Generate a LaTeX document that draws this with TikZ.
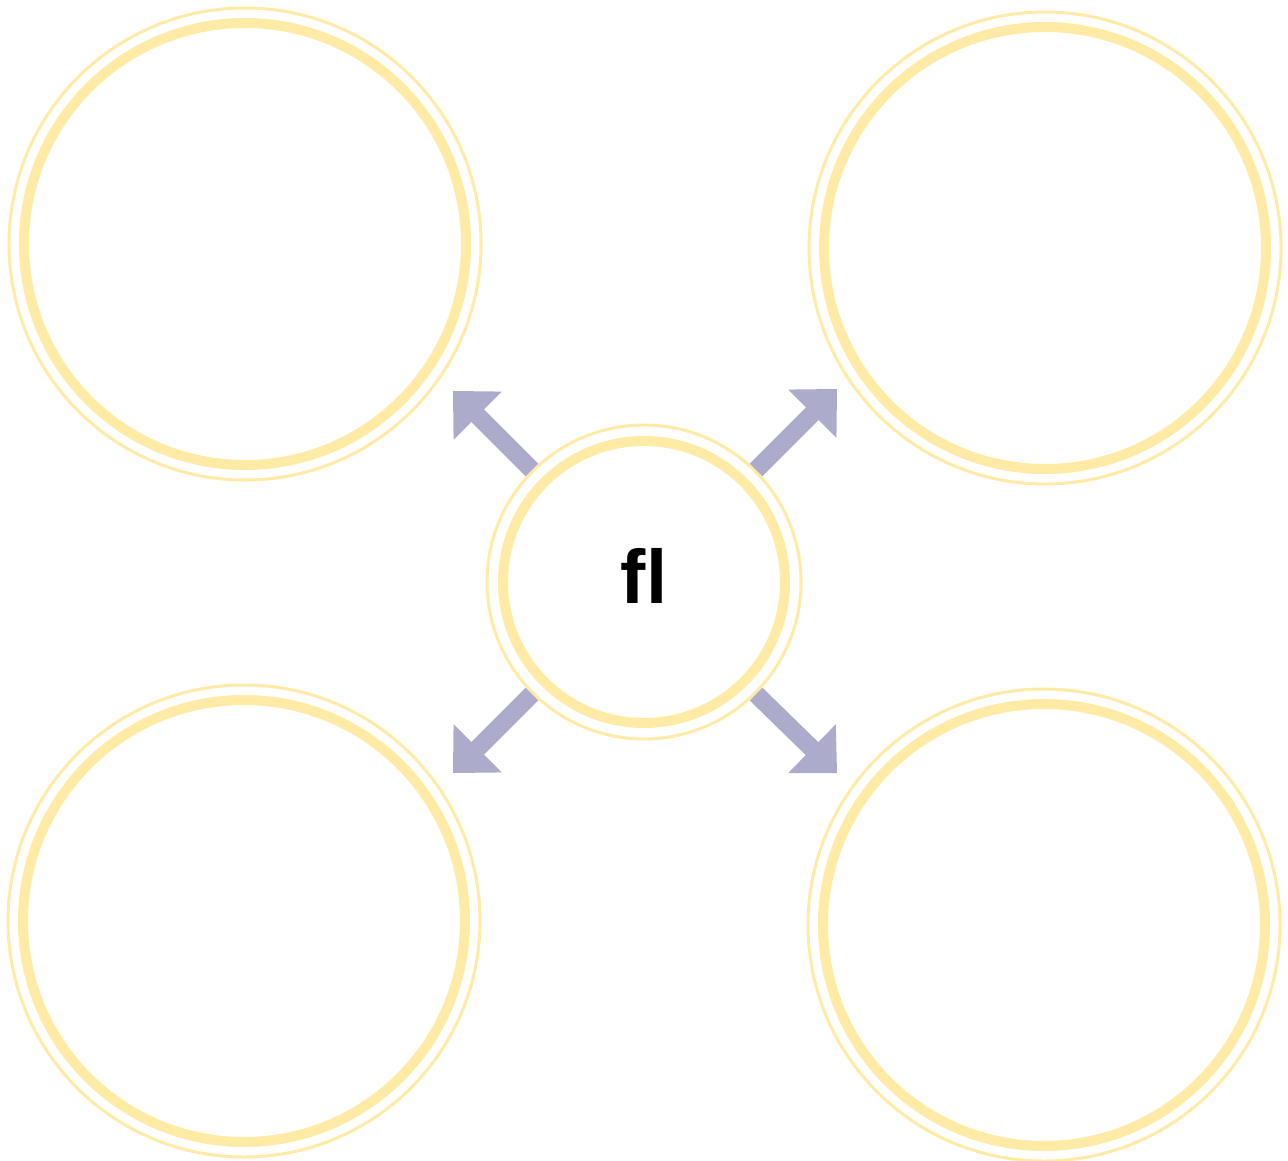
\documentclass[tikz,border=0pt]{standalone}
\usepackage{fontspec}
\setmainfont{Liberation Sans}
\usetikzlibrary{arrows.meta}
\definecolor{ringc}{HTML}{FFEBA6}
\definecolor{arrc}{HTML}{ADABCC}
\begin{document}
\begin{tikzpicture}[x=1pt,y=-1pt,
   ring/.style={circle,draw=ringc,line width=3,fill=white,inner sep=0},
   arr/.style={arrc,line width=18,-{Triangle[length=35pt,width=66pt]}}]
   \useasboundingbox (0,0) rectangle (1288,1160);
   % outer circles
   \foreach \n/\x/\y in {tl/245/244, tr/1045/248, bl/244/921, br/1044/925} {
    \node[ring,minimum size=472] (\n) at (\x,\y) {};
    \draw[ringc,line width=10] (\n.center) circle(221);
   }
   % centre
   \node[ring,minimum size=314] (c) at (644,582) {};
   \draw[ringc,line width=10] (c.center) circle(141);
   \node[font=\bfseries\fontsize{76}{80}\selectfont,yshift=6pt] (lbl) at (c.center) {fl};
   % arrows
   \foreach \a/\dx/\dy/\n in {135/-79/-79/atl, 45/81/-81/atr, -135/-79/79/abl, -45/81/79/abr} {
    \coordinate (\n) at ([shift={(\dx,\dy)}]c.\a);
    \draw[arr] (c.\a) -- (\n);
   }
  \end{tikzpicture}
\end{document}
